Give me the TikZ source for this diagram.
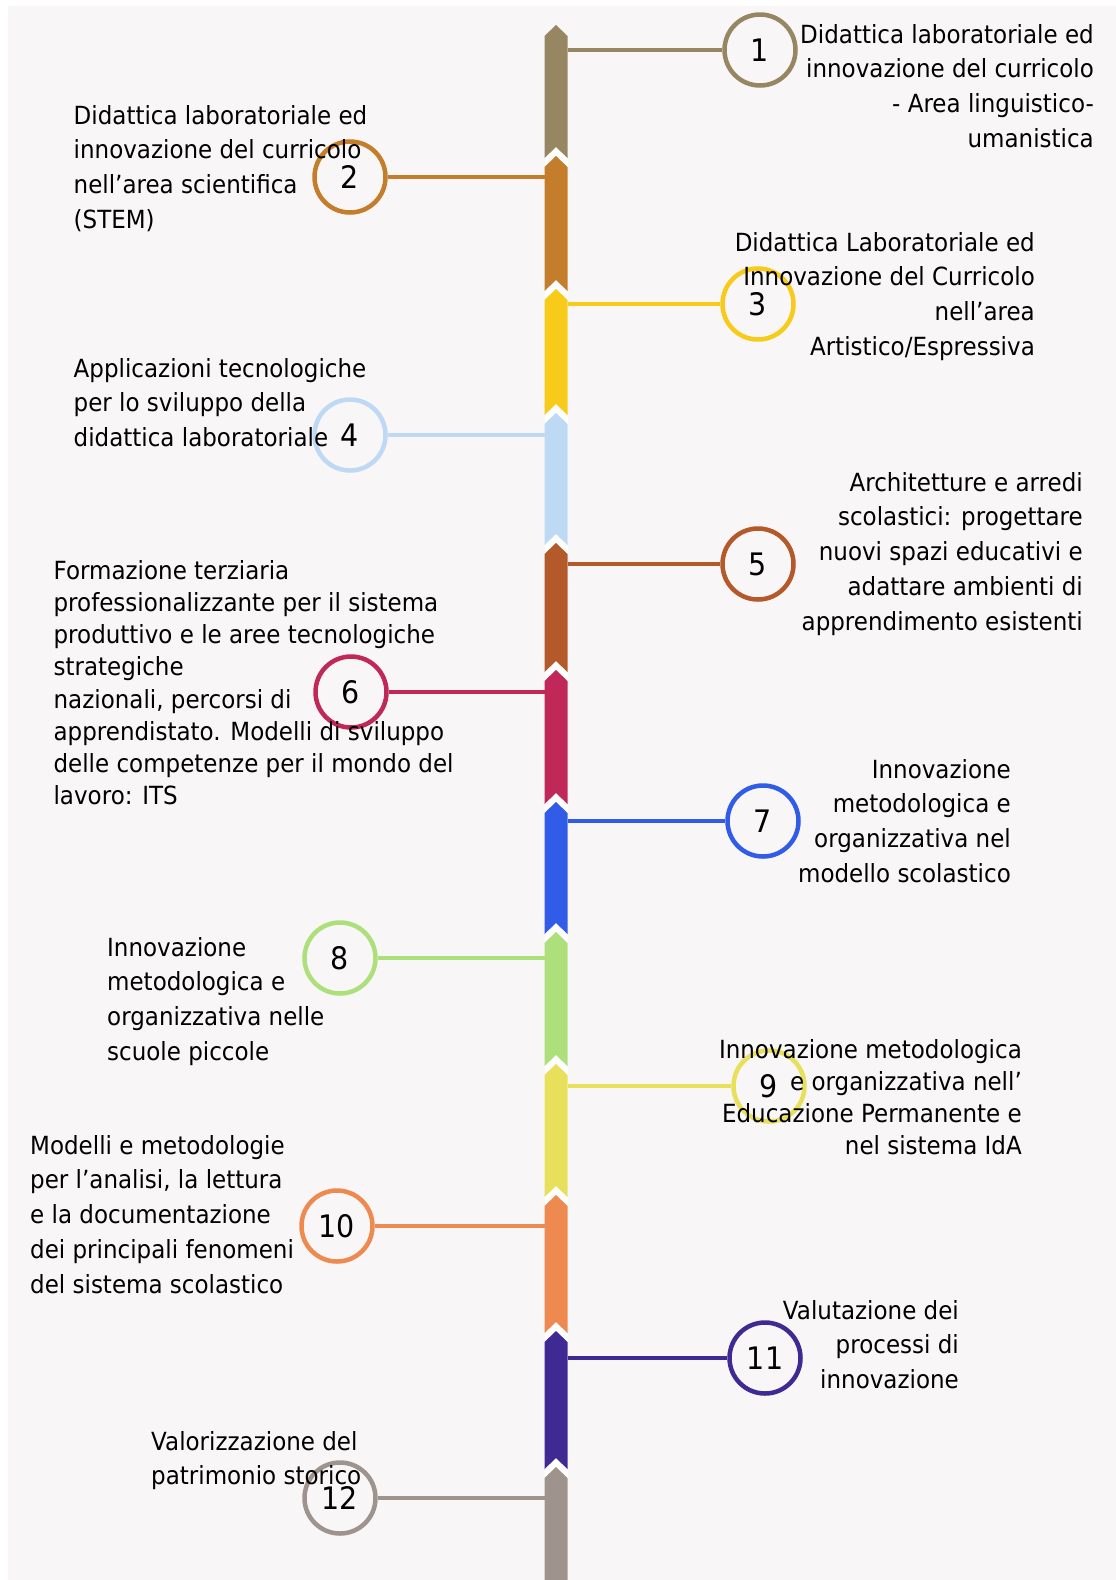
\documentclass[tikz,border=0pt]{standalone}
\usepackage{fontspec}
\setmainfont{DejaVu Sans}[FakeStretch=0.92]
\usepackage{tikz}
\definecolor{paper}{RGB}{249,246,247}
\definecolor{tone1}{HTML}{978662}
\definecolor{tone2}{HTML}{C47D2B}
\definecolor{tone3}{HTML}{F8CA1A}
\definecolor{tone4}{HTML}{BDD9F3}
\definecolor{tone5}{HTML}{B4592A}
\definecolor{tone6}{HTML}{C02858}
\definecolor{tone7}{HTML}{305CE8}
\definecolor{tone8}{HTML}{ADE07A}
\definecolor{tone9}{HTML}{E8DF5A}
\definecolor{tone10}{HTML}{EE8A4F}
\definecolor{tone11}{HTML}{3E2A92}
\definecolor{tone12}{HTML}{9E948D}
\tikzset{
  stop/.style={circle, draw=#1, fill=paper, line width=4.5pt, minimum size=71pt, inner sep=0pt, text=black, font=\fontsize{31}{31}\selectfont},
  link/.style={draw=#1, line width=4pt},
  lbl/.style={inner sep=0pt, text=black, font=\fontsize{25}{34.7}\selectfont},
  lbltight/.style={lbl, font=\fontsize{25}{32.2}\selectfont}
}

\begin{document}
\begin{tikzpicture}[x=1pt, y=-1pt, line join=miter]
	\useasboundingbox (0,0) rectangle (1116,1580);
	\fill[white] (0,0) rectangle (1116,1580);
	\fill[paper] (8,6) rectangle (1116,1580);
	% spine
	\fill[white] (544.5,145) rectangle (567.5,1580);
	\foreach \n/\t/\b in {1/25/156, 2/156/289, 3/289/413, 4/413/543, 5/543/670, 6/670/802, 7/802/932, 8/932/1064, 9/1064/1195, 10/1195/1331, 11/1331/1467} {
		\fill[tone\n] (556,\t) -- (567.5,\t+11) -- (567.5,\b+2) -- (556,\b-9) -- (544.5,\b+2) -- (544.5,\t+11) -- cycle;
	}
	\fill[tone12] (556,1467) -- (567.5,1478) -- (567.5,1580) -- (544.5,1580) -- (544.5,1478) -- cycle;
	% stops
	\foreach \n/\y/\sx/\cx in {1/50/567.5/760, 2/177/544.5/350, 3/304/567.5/758, 4/435/544.5/350, 5/564/567.5/758, 6/692/544.5/351, 7/821/567.5/763, 8/958/544.5/340, 9/1086/567.5/769, 10/1226/544.5/337, 11/1358/567.5/765, 12/1498/544.5/340} {
		\coordinate (s\n) at (\sx,\y);
		\node[stop=tone\n] (c\n) at (\cx,\y) {\n};
		\draw[link=tone\n] (s\n) -- (c\n);
	}
	% labels
	\node[lbl, anchor=north east, align=right] (t1) at (1094,24) {Didattica laboratoriale ed\\innovazione del curricolo\\- Area linguistico-\\umanistica};
	\node[lbl, anchor=north west, align=left] (t2) at (73.5,105) {Didattica laboratoriale ed\\innovazione del curricolo\\nell’area scientifica\\(STEM)};
	\node[lbl, anchor=north east, align=right] (t3) at (1035,232) {Didattica Laboratoriale ed\\Innovazione del Curricolo\\nell’area\\Artistico/Espressiva};
	\node[lbl, anchor=north west, align=left] (t4) at (73.5,358) {Applicazioni tecnologiche\\per lo sviluppo della\\didattica laboratoriale};
	\node[lbl, anchor=north east, align=right] (t5) at (1083,472) {Architetture e arredi\\scolastici: progettare\\nuovi spazi educativi e\\adattare ambienti di\\apprendimento esistenti};
	\node[lbltight, anchor=north west, align=left] (t6) at (53.4,560) {Formazione terziaria\\professionalizzante per il sistema\\produttivo e le aree tecnologiche\\strategiche\\nazionali, percorsi di\\apprendistato. Modelli di sviluppo\\delle competenze per il mondo del\\lavoro: ITS};
	\node[lbl, anchor=north east, align=right] (t7) at (1011,759) {Innovazione\\metodologica e\\organizzativa nel\\modello scolastico};
	\node[lbl, anchor=north west, align=left] (t8) at (107,937) {Innovazione\\metodologica e\\organizzativa nelle\\scuole piccole};
	\node[lbltight, anchor=north east, align=right] (t9) at (1022,1039) {Innovazione metodologica\\e organizzativa nell’\\Educazione Permanente e\\nel sistema IdA};
	\node[lbl, anchor=north west, align=left] (t10) at (30,1135) {Modelli e metodologie\\per l’analisi, la lettura\\e la documentazione\\dei principali fenomeni\\del sistema scolastico};
	\node[lbl, anchor=north east, align=right] (t11) at (959,1300) {Valutazione dei\\processi di\\innovazione};
	\node[lbl, anchor=north west, align=left] (t12) at (151,1431) {Valorizzazione del\\patrimonio storico};
\end{tikzpicture}
\end{document}
